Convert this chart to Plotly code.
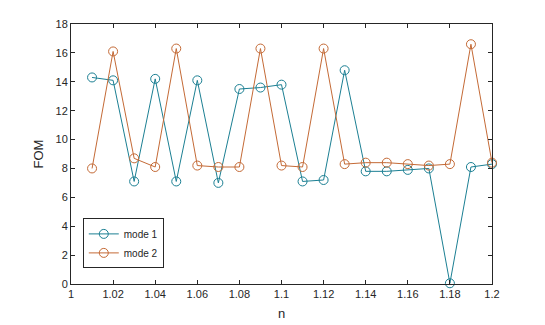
import plotly.graph_objects as go

n = [1.01, 1.02, 1.03, 1.04, 1.05, 1.06, 1.07, 1.08, 1.09, 1.10,
     1.11, 1.12, 1.13, 1.14, 1.15, 1.16, 1.17, 1.18, 1.19, 1.20]
mode1 = [14.3, 14.1, 7.1, 14.2, 7.1, 14.1, 7.0, 13.5, 13.6, 13.8,
         7.1, 7.2, 14.8, 7.8, 7.8, 7.9, 8.0, 0.05, 8.1, 8.3]
mode2 = [8.0, 16.1, 8.7, 8.1, 16.3, 8.2, 8.1, 8.1, 16.3, 8.2,
         8.1, 16.3, 8.3, 8.4, 8.4, 8.3, 8.2, 8.3, 16.6, 8.4]
x_ticks = [1, 1.02, 1.04, 1.06, 1.08, 1.1, 1.12, 1.14, 1.16, 1.18, 1.2]
x_tick_text = ["1", "1.02", "1.04", "1.06", "1.08", "1.1", "1.12", "1.14", "1.16", "1.18", "1.2"]
y_ticks = list(range(0, 19, 2))

c1 = "#1b7f93"
c2 = "#c46a36"

fig = go.Figure()
fig.add_trace(go.Scatter(x=n, y=mode1, mode="lines+markers", name="mode 1",
                         line=dict(color=c1, width=1), cliponaxis=False,
                         marker=dict(symbol="circle-open", size=9, color=c1, line=dict(width=1))))
fig.add_trace(go.Scatter(x=n, y=mode2, mode="lines+markers", name="mode 2",
                         line=dict(color=c2, width=1), cliponaxis=False,
                         marker=dict(symbol="circle-open", size=9, color=c2, line=dict(width=1))))

axis_common = dict(showgrid=False, zeroline=False, showline=True, linecolor="#262626",
                   linewidth=1, mirror="ticks", ticks="inside", ticklen=4, tickcolor="#262626",
                   automargin=False,
                   tickfont=dict(family="Liberation Sans", size=11, color="#262626"))

fig.update_layout(
    width=545, height=325,
    margin=dict(l=71, r=53, t=24, b=41),
    paper_bgcolor="white", plot_bgcolor="white",
    font=dict(family="Liberation Sans", color="#262626"),
    xaxis=dict(range=[1, 1.2], tickvals=x_ticks, ticktext=x_tick_text,
               title=dict(text="n", font=dict(size=13), standoff=9), **axis_common),
    yaxis=dict(range=[0, 18], tickvals=y_ticks,
               title=dict(text="FOM", font=dict(size=13), standoff=8), **axis_common),
    legend=dict(x=0.028, y=0.06, xanchor="left", yanchor="bottom",
                bordercolor="#262626", borderwidth=1, bgcolor="white",
                font=dict(size=10), tracegroupgap=0, itemwidth=30),
    showlegend=True,
)

fig.write_html("out.html")
